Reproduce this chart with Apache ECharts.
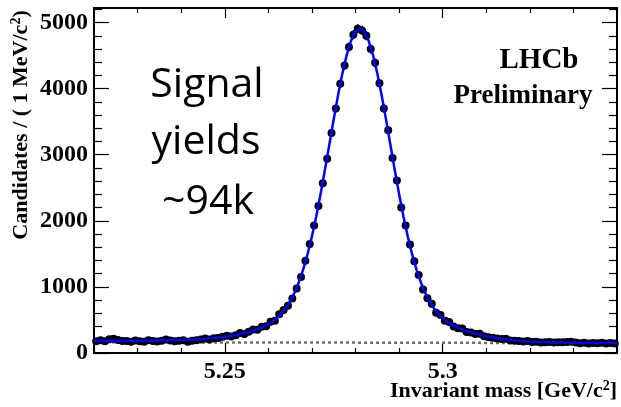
<!DOCTYPE html>
<html><head><meta charset="utf-8">
<script src="https://cdn.jsdelivr.net/npm/echarts@6/dist/echarts.min.js"></script>
<style>html,body{margin:0;padding:0;background:#fff}#c{width:621px;height:407px}</style>
</head><body><div id="c"></div>
<script>
// Histogram: 120 bins of 1 MeV from 5.220 to 5.340 GeV
const binStart = 5.220;
const binWidth = 0.001;
const counts = [
  178,192,176,208,214,195,182,180,172,188,
  176,170,192,181,175,186,204,188,177,184,
  192,170,184,193,204,221,206,222,228,245,
  260,249,270,301,289,322,356,352,397,404,
  473,488,588,650,716,826,977,1150,1395,1650,
  1930,2225,2570,2940,3330,3700,4075,4350,4630,4815,
  4905,4880,4800,4600,4390,4080,3700,3370,2950,2610,
  2200,1930,1640,1390,1180,960,830,745,610,575,
  488,470,402,375,370,318,312,286,290,255,
  240,230,220,210,214,190,186,180,175,181,
  166,172,160,163,168,158,162,164,168,170,
  158,149,156,145,152,146,155,143,151,145
];
// Total fit, sampled at every bin edge 5.220 ... 5.340
const fitValues = [
  185,185,185,185,185,185,185,185,185,185,
  185,186,187,188,189,190,191,193,195,197,
  199,202,203,205,209,212,218,223,230,237,
  246,255,266,278,294,309,326,348,374,403,
  438,480,532,597,680,784,912,1071,1265,1494,
  1764,2069,2409,2775,3155,3537,3902,4234,4514,4730,
  4863,4908,4861,4728,4512,4232,3900,3535,3153,2772,
  2406,2066,1761,1491,1262,1068,909,780,676,593,
  528,475,433,398,369,343,321,302,286,268,
  253,241,230,220,211,203,196,189,183,178,
  174,171,168,165,163,161,159,158,156,155,
  154,153,152,152,152,151,151,151,151,150,
  150
];
// Background component
const bgX = [5.22, 5.25, 5.28, 5.31, 5.34];
const bgY = [163, 160, 157, 153, 150];
// Ticks
const xMajorTicks = [5.25, 5.30];
const xMinorTicks = [5.22,5.23,5.24,5.26,5.27,5.28,5.29,5.31,5.32,5.33,5.34];
const yMajorTicks = [0,1000,2000,3000,4000,5000];
const yMinorTicks = [200,400,600,800,1200,1400,1600,1800,2200,2400,2600,2800,3200,3400,3600,3800,4200,4400,4600,4800,5200];

const dataPts = counts.map((v,i)=>[+(binStart + binWidth*(i+0.5)).toFixed(4), v]);
const errPts = counts.map((v,i)=>[+(binStart + binWidth*(i+0.5)).toFixed(4), v, Math.sqrt(v)]);
const fitPts = fitValues.map((v,i)=>[+(binStart + binWidth*i).toFixed(3), v]);
const bgPts = bgX.map((x,i)=>[x,bgY[i]]);

const SERIF = '"Liberation Serif","Times New Roman",serif';
const XMIN=5.22, XMAX=5.34, YMIN=0, YMAX=5220;

function xAx(pos, ticks, len, labels){
  return {type:'value', position:pos, min:XMIN, max:XMAX, gridIndex:0,
    axisLine:{show:true, onZero:false, lineStyle:{color:'#000', width:2}},
    axisTick:{show:true, inside:true, length:len, customValues:ticks, lineStyle:{color:'#000', width:1.2}},
    axisLabel:labels ? {show:true, customValues:labels, margin:7, color:'#000', fontFamily:SERIF, fontWeight:'bold', fontSize:24,
      formatter:v=>String(+v.toFixed(2))} : {show:false},
    splitLine:{show:false}};
}
function yAx(pos, ticks, len, labels){
  return {type:'value', position:pos, min:YMIN, max:YMAX, gridIndex:0,
    axisLine:{show:true, onZero:false, lineStyle:{color:'#000', width:2}},
    axisTick:{show:true, inside:true, length:len, customValues:ticks, lineStyle:{color:'#000', width:1.2}},
    axisLabel:labels ? {show:true, customValues:labels, margin:6, color:'#000', fontFamily:SERIF, fontWeight:'bold', fontSize:24,
      formatter:v=>String(Math.round(v))} : {show:false},
    splitLine:{show:false}};
}

const supRich = {s:{fontFamily:SERIF, fontWeight:'bold', fontSize:14, verticalAlign:'top', lineHeight:24, fill:'#000'},
                 n:{fontFamily:SERIF, fontWeight:'bold', fontSize:22, lineHeight:24, fill:'#000'}};

const chart = echarts.init(document.getElementById('c'), null, {renderer:'canvas'});
chart.setOption({
  backgroundColor:'#fff',
  animation:false,
  grid:{left:94, top:8, right:4, bottom:54, containLabel:false},
  xAxis:[
    xAx('bottom', xMajorTicks, 10, xMajorTicks),
    xAx('bottom', xMinorTicks, 5, null),
    xAx('top', xMajorTicks, 10, null),
    xAx('top', xMinorTicks, 5, null)
  ],
  yAxis:[
    yAx('left', yMajorTicks, 15, yMajorTicks),
    yAx('left', yMinorTicks, 8, null),
    yAx('right', yMajorTicks, 15, null),
    yAx('right', yMinorTicks, 8, null)
  ],
  series:[
    {type:'line', data:bgPts, xAxisIndex:0, yAxisIndex:0, showSymbol:false, symbol:'none',
      lineStyle:{color:'#707070', width:2.5, type:[3,3]}, z:2},
    {type:'custom', data:errPts, xAxisIndex:0, yAxisIndex:0, z:3,
      renderItem:(params, api)=>{
        const x=api.value(0), y=api.value(1), e=api.value(2);
        const p1=api.coord([x,y-e]), p2=api.coord([x,y+e]);
        return {type:'line', shape:{x1:p1[0],y1:p1[1],x2:p2[0],y2:p2[1]}, style:{stroke:'#000', lineWidth:1.5}};
      }},
    {type:'scatter', data:dataPts, xAxisIndex:0, yAxisIndex:0, symbol:'circle', symbolSize:8,
      itemStyle:{color:'#000', opacity:1}, z:4},
    {type:'line', data:fitPts, xAxisIndex:0, yAxisIndex:0, showSymbol:false, symbol:'none', smooth:false,
      lineStyle:{color:'#0000ff', width:2.5}, z:5}
  ],
  graphic:[
    {type:'text', x:21, y:125, rotation:Math.PI/2, style:{text:'{n|Candidates / ( 1 MeV/c}{s|2}{n|)}', rich:supRich,
      align:'center', verticalAlign:'middle'}},
    {type:'text', x:617, y:391, style:{text:'{n|Invariant mass [GeV/c}{s|2}{n|]}', rich:supRich,
      align:'right', verticalAlign:'middle'}},
    {type:'text', x:539, y:61, style:{text:'LHCb', fill:'#000', font:'bold 29px '+SERIF, align:'center', verticalAlign:'middle'}},
    {type:'text', x:523, y:96, style:{text:'Preliminary', fill:'#000', font:'bold 27px '+SERIF, align:'center', verticalAlign:'middle'}},
    {type:'text', x:207, y:85, style:{text:'Signal', fill:'#000', font:'41px "Open Sans",sans-serif', align:'center', verticalAlign:'middle'}},
    {type:'text', x:206, y:142, style:{text:'yields', fill:'#000', font:'41px "Open Sans",sans-serif', align:'center', verticalAlign:'middle'}},
    {type:'text', x:208, y:202, style:{text:'~94k', fill:'#000', font:'41px "Open Sans",sans-serif', align:'center', verticalAlign:'middle'}}
  ]
});
</script>
</body></html>
